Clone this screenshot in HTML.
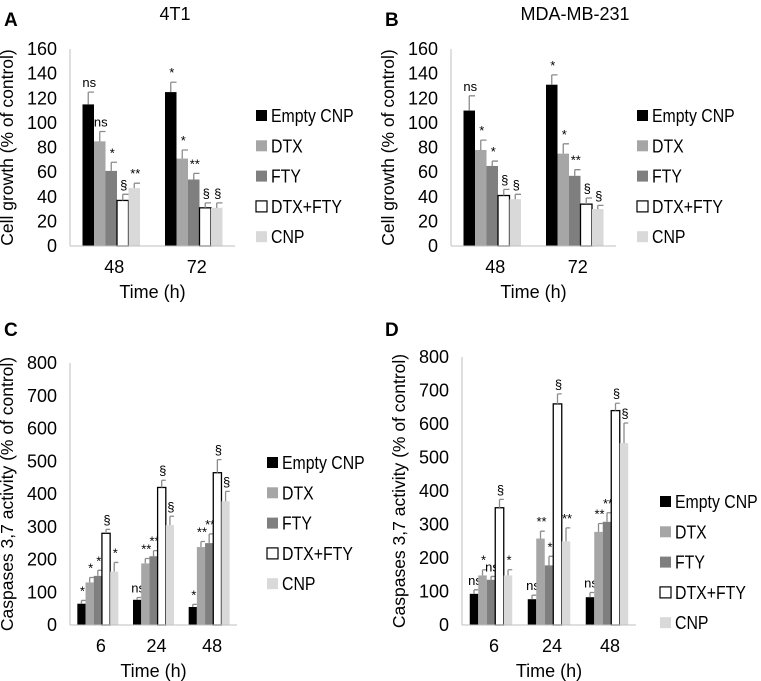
<!DOCTYPE html>
<html><head><meta charset="utf-8">
<style>
html,body{margin:0;padding:0;background:#fff;}
svg{display:block;font-family:"Liberation Sans",sans-serif;}
</style></head>
<body>
<svg id="fig" width="761" height="681" viewBox="0 0 761 681" xmlns="http://www.w3.org/2000/svg">
<text x="175" y="20" font-size="18" text-anchor="middle">4T1</text>
<text x="575" y="20" font-size="18" text-anchor="middle">MDA-MB-231</text>
<text x="4" y="26" font-size="19" font-weight="bold">A</text>
<text x="385" y="26" font-size="19" font-weight="bold">B</text>
<text x="4" y="336" font-size="19" font-weight="bold">C</text>
<text x="385" y="336" font-size="19" font-weight="bold">D</text>
</svg>
<script>
const seriesNames = ["Empty CNP","DTX","FTY","DTX+FTY","CNP"];
const categoriesAB = ["48","72"];
const categoriesCD = ["6","24","48"];
const ticksAB = [0,20,40,60,80,100,120,140,160];
const ticksCD = [0,100,200,300,400,500,600,700,800];
// Panel A values [series][category]
const aValues = [[115,125],[85,71],[61,54],[37,31],[47,31]];
const aErrors = [[10,8],[8,7],[7,5],[5,4],[4,4]];
const aMarks = [["ns","*"],["ns","*"],["*","**"],["§","§"],["**","§"]];
// Panel B
const bValues = [[110,131],[78,75],[65,57],[41,34],[38,30]];
const bErrors = [[12,8],[8,8],[4,5],[5,5],[4,3]];
const bMarks = [["ns","*"],["*","*"],["*","**"],["§","§"],["§","§"]];
// Panel C
const cValues = [[65,77,55],[130,188,238],[150,210,250],[280,420,465],[163,305,378]];
const cErrors = [[10,7,8],[15,15,17],[17,17,28],[12,22,40],[28,27,30]];
const cMarks = [["*","ns","*"],["*","**","**"],["*","**","**"],["§","§","§"],["*","§","§"]];
// Panel D
const dValues = [[93,77,83],[148,258,278],[135,178,308],[350,660,640],[148,250,543]];
const dErrors = [[12,12,14],[17,22,25],[10,27,27],[25,30,22],[17,40,60]];
const dMarks = [["ns","ns","ns"],["*","**","**"],["ns","*","**"],["§","§","§"],["*","**","§"]];

const fills = ["#000000","#a6a6a6","#7f7f7f","#ffffff","#d9d9d9"];
const NS = "http://www.w3.org/2000/svg";
const svg = document.getElementById("fig");
function mk(tag, attrs, parent){
  const e = document.createElementNS(NS, tag);
  for (const k in attrs) e.setAttribute(k, attrs[k]);
  (parent||svg).appendChild(e);
  return e;
}
function panel(p){
  const g = mk("g",{});
  
  
  const ymax = p.ticks[p.ticks.length-1];
  const yS = v => p.y0 - (v/ymax)*(p.y0-p.y1);
  const nC = p.cats.length;
  const cw = (p.x1-p.x0)/nC;
  const xC = i => p.x0 + cw*(i+0.5);
  const ya = mk("line",{x1:p.x0,y1:p.y1,x2:p.x0,y2:p.y0,stroke:"#bfbfbf","stroke-width":1},g);
  
  
  p.ticks.forEach(t=>{
    const tx = mk("text",{x:p.x0-13,y:yS(t)+6,"font-size":18,"text-anchor":"end"},g);
    tx.textContent = t;
    
    
  });
  p.cats.forEach((c,i)=>{
    const tx = mk("text",{x:xC(i)+3,y:p.y0+27,"font-size":18,"text-anchor":"middle"},g);
    tx.textContent = c;
    
    
  });
  const yt = mk("text",{x:0,y:0,"font-size":17.5,"text-anchor":"middle",transform:`translate(${p.x0-57},${(p.y0+p.y1)/2}) rotate(-90)`},g);
  yt.textContent = p.ytitle;
  
  
  const xt = mk("text",{x:(p.x0+p.x1)/2,y:p.y0+52,"font-size":18,"text-anchor":"middle"},g);
  xt.textContent = "Time (h)";
  
  
  const total = 5*p.bw;
  for (let s=0;s<5;s++){
    for (let i=0;i<nC;i++){
      const v = p.vals[s][i], e = p.errs[s][i];
      const bx = xC(i) - total/2 + s*p.bw;
      const r = mk("rect",{x:bx,y:yS(v),width:p.bw,height:p.y0-yS(v),fill:fills[s],stroke:s===3?"#000":"none","stroke-width":s===3?1.3:0},g);
      
      
      const cx = bx + p.bw/2;
      const eb = mk("path",{d:`M${cx},${yS(v)} V${yS(v+e)} M${cx},${yS(v+e)} H${cx+p.bw/2}`,stroke:"#8c8c8c","stroke-width":1.3,fill:"none"},g);
      
      
      const an = mk("text",{x:cx+1,y:yS(v+e)-5,"font-size":13,"text-anchor":"middle"},g);
      an.textContent = p.marks[s][i];
      
      
    }
  }
  const xa = mk("line",{x1:p.x0,y1:p.y0,x2:p.x1,y2:p.y0,stroke:"#bfbfbf","stroke-width":1},g);
  
  
  seriesNames.forEach((n,s)=>{
    const ly = p.ly + s*30.3;
    const sq = mk("rect",{x:p.lx,y:ly-6,width:11,height:11,fill:fills[s],stroke:s===3?"#000":"none","stroke-width":1.2},g);
    
    
    const lt = mk("text",{x:p.lx+15,y:ly+6,"font-size":18},g);
    lt.textContent = n;
    
    
    const w = lt.getComputedTextLength();
    lt.setAttribute('textLength', (w*0.88).toFixed(1));
    lt.setAttribute('lengthAdjust', 'spacingAndGlyphs');
  });
}
panel({id:"panel-a",x0:70,x1:235,y0:246,y1:49,ticks:ticksAB,cats:categoriesAB,vals:aValues,errs:aErrors,marks:aMarks,bw:11.5,ytitle:"Cell growth (% of control)",lx:256,ly:116});
panel({id:"panel-b",x0:451,x1:616,y0:246,y1:49,ticks:ticksAB,cats:categoriesAB,vals:bValues,errs:bErrors,marks:bMarks,bw:11.5,ytitle:"Cell growth (% of control)",lx:637,ly:116});
panel({id:"panel-c",x0:70,x1:237,y0:625,y1:363,ticks:ticksCD,cats:categoriesCD,vals:cValues,errs:cErrors,marks:cMarks,bw:8.2,ytitle:"Caspases 3,7 activity (% of control)",lx:267,ly:463});
panel({id:"panel-d",x0:462,x1:636,y0:625,y1:357,ticks:ticksCD,cats:categoriesCD,vals:dValues,errs:dErrors,marks:dMarks,bw:8.5,ytitle:"Caspases 3,7 activity (% of control)",lx:660,ly:502});
</script>
</body></html>
